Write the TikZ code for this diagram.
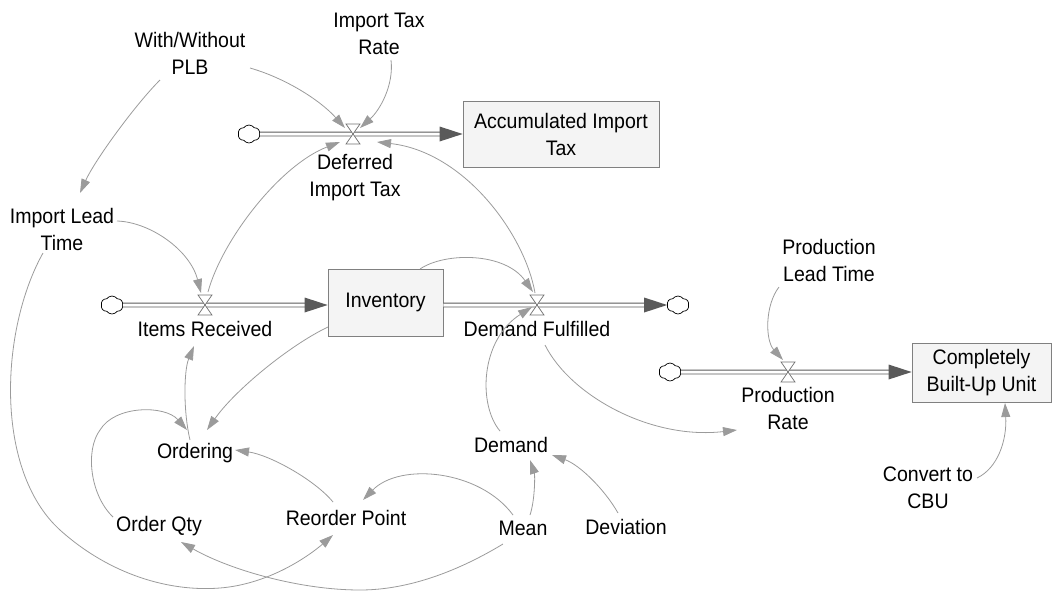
\documentclass[tikz,border=0pt]{standalone}
\usepackage{fontspec}
\setmainfont{Liberation Sans}[FakeStretch=0.93]
\usetikzlibrary{arrows.meta,shapes.symbols,calc}
\definecolor{connc}{HTML}{9B9B9B}
\definecolor{pipec}{HTML}{5A5A5A}
\definecolor{stockfill}{HTML}{F4F4F4}
\definecolor{stockdraw}{HTML}{808080}
\definecolor{valvec}{HTML}{707070}
\begin{document}
\begin{tikzpicture}[x=1pt,y=-1pt,
  lbl/.style={align=center,inner sep=0pt,font=\fontsize{21}{27}\selectfont},
  stock/.style={lbl,draw=stockdraw,fill=stockfill,line width=0.8pt},
  cloudnode/.style={cloud,cloud puffs=6,cloud puff arc=110,aspect=1.2,draw=black,line width=0.7pt,fill=white,minimum width=22pt,minimum height=18pt,inner sep=0pt},
  pipe/.style={draw=pipec,line width=0.9pt,double=white,double distance=3pt,shorten >=21pt},
  pipehead/.style={fill=pipec},
  conn/.style={draw=connc,line width=0.8pt,-{Triangle[length=14pt,width=9pt]}},
  valvepic/.pic={\draw[fill=white,draw=valvec,line width=0.7pt] (-7,-10)--(7,-10)--(-7,10)--(7,10)--cycle;}
]
\useasboundingbox (0,0) rectangle (1052,590);

% stocks
\node[stock,minimum width=196pt,minimum height=66pt] (ait) at (561,134) {Accumulated Import\\Tax};
\node[stock,minimum width=115pt,minimum height=67pt] (inv) at (385.5,302.5) {Inventory};
\node[stock,minimum width=139pt,minimum height=59pt] (cbu) at (981.5,372.5) {Completely\\Built-Up Unit};

% clouds
\node[cloudnode] (c1) at (249,134) {};
\node[cloudnode] (c2) at (112,305) {};
\node[cloudnode] (c3) at (678,305) {};
\node[cloudnode] (c4) at (670,372) {};

% valves
\coordinate (vdit) at (353,134);
\coordinate (vir) at (205,305);
\coordinate (vdf) at (537,305);
\coordinate (vpr) at (788,372);

% labels
\node[lbl] (wplb) at (190,53.5) {With/Without\\PLB};
\node[lbl] (itr) at (379,33.5) {Import Tax\\Rate};
\node[lbl] (ldit) at (355,177.5) {Deferred\\Import Tax};
\node[lbl] (ilt) at (62,229.5) {Import Lead\\Time};
\node[lbl] (lir) at (205,329) {Items Received};
\node[lbl] (ldf) at (537,329) {Demand Fulfilled};
\node[lbl] (plt) at (829,260) {Production\\Lead Time};
\node[lbl] (lpr) at (788,408) {Production\\Rate};
\node[lbl] (conv) at (928,488) {Convert to\\CBU};
\node[lbl] (dem) at (511,445) {Demand};
\node[lbl] (mean) at (523,528) {Mean};
\node[lbl] (dev) at (626,527) {Deviation};
\node[lbl] (ord) at (195,453) {Ordering};
\node[lbl] (oq) at (159,526) {Order Qty};
\node[lbl] (rp) at (346,518) {Reorder Point};

% pipes
\draw[pipe] (c1.east) -- (ait.west);
\fill[pipehead] (ait.west) -- ++(-23,-7.5) -- ++(0,15) -- cycle;
\draw[pipe] (c2.east) -- (inv.west |- c2);
\fill[pipehead] (inv.west |- c2) -- ++(-23,-7.5) -- ++(0,15) -- cycle;
\draw[pipe] (inv.east |- c3) -- (c3.west);
\fill[pipehead] (c3.west) -- ++(-23,-7.5) -- ++(0,15) -- cycle;
\draw[pipe] (c4.east) -- (cbu.west |- c4);
\fill[pipehead] (cbu.west |- c4) -- ++(-23,-7.5) -- ++(0,15) -- cycle;

\pic at (vdit) {valvepic};
\pic at (vir) {valvepic};
\pic at (vdf) {valvepic};
\pic at (vpr) {valvepic};

% connectors
\draw[conn] ($(wplb)+(-30,26.5)$) .. controls (135,105) and (95,160) .. ($(ilt)+(18,-36.5)$);
\draw[conn] ($(wplb)+(60,14.5)$) .. controls (285,78) and (320,100) .. ($(vdit)+(-8,-6)$);
\draw[conn] ($(itr)+(12,26.5)$) .. controls (394,85) and (380,110) .. ($(vdit)+(7,-6)$);
\draw[conn] ($(vir)+(3,-13)$) .. controls (222,240) and (280,165) .. ($(vdit)+(-13,8)$);
\draw[conn] ($(vdf)+(-2,-12)$) .. controls (525,235) and (465,152) .. ($(vdit)+(24,8)$);
\draw[conn] ($(ilt)+(55,-8.5)$) .. controls (150,222) and (190,250) .. ($(vir)+(-4,-12)$);
\draw[conn] ($(ilt)+(-19,23.5)$) .. controls (0,330) and (-6,470) .. (60,530)
  .. controls (110,575) and (170,592) .. (220,588)
  .. controls (270,584) and (310,555) .. ($(rp)+(-13,17)$);
\draw[conn] ($(inv)+(34.5,-33.5)$) .. controls (445,252) and (505,252) .. ($(vdf)+(-4,-13)$);
\draw[conn] ($(inv)+(-57.5,24.5)$) .. controls (290,345) and (235,390) .. ($(ord)+(12,-23)$);
\draw[conn] ($(ord)+(-5,-13)$) .. controls (183,410) and (184,370) .. ($(lir)+(-11,17)$);
\draw[conn] ($(oq)+(-46,-9)$) .. controls (90,495) and (85,450) .. (100,430)
  .. controls (115,405) and (165,405) .. ($(ord)+(-8,-23)$);
\draw[conn] ($(rp)+(-13,-16)$) .. controls (315,480) and (270,455) .. ($(ord)+(40,-3)$);
\draw[conn] ($(mean)+(-10,-13)$) .. controls (480,470) and (400,462) .. ($(rp)+(17,-18)$);
\draw[conn] ($(mean)+(-20,16)$) .. controls (460,570) and (410,590) .. (360,590)
  .. controls (300,590) and (230,570) .. ($(oq)+(22,16)$);
\draw[conn] ($(mean)+(7,-13)$) .. controls (535,500) and (535,475) .. ($(dem)+(19,15)$);
\draw[conn] ($(dev)+(-8,-14)$) .. controls (605,490) and (580,465) .. ($(dem)+(41,10)$);
\draw[conn] ($(dem)+(-11,-14)$) .. controls (478,405) and (480,340) .. ($(vdf)+(-5,2)$);
\draw[conn] ($(ldf)+(8,16)$) .. controls (570,395) and (650,440) .. ($(lpr)+(-51,22)$);
\draw[conn] ($(plt)+(-50,27)$) .. controls (765,305) and (765,340) .. ($(vpr)+(-5,-12)$);
\draw[conn] ($(conv)+(49,-10)$) .. controls (998,468) and (1007,440) .. ($(cbu)+(23.5,30.5)$);
\end{tikzpicture}
\end{document}
